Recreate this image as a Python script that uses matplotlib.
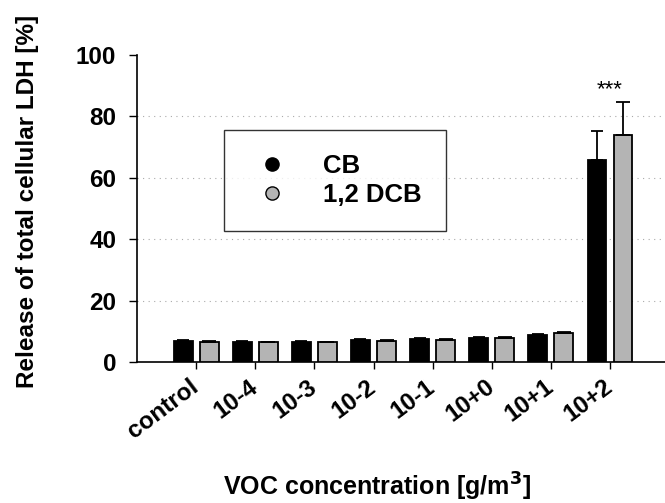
import numpy as np
import matplotlib
matplotlib.use('agg')
import matplotlib.pyplot as plt
from matplotlib.lines import Line2D

plt.rcParams['font.family'] = ['Liberation Sans', 'DejaVu Sans']
plt.rcParams['font.weight'] = 'bold'

categories = ['control', '10-4', '10-3', '10-2', '10-1', '10+0', '10+1', '10+2']
cb_values = [6.8, 6.7, 6.7, 7.2, 7.6, 8.0, 9.0, 65.7]
cb_err = [0.4, 0.2, 0.2, 0.3, 0.3, 0.3, 0.3, 9.6]
dcb_values = [6.4, 6.5, 6.5, 6.9, 7.3, 7.9, 9.6, 73.9]
dcb_err = [0.6, 0.2, 0.2, 0.2, 0.3, 0.2, 0.3, 10.6]
series_names = ['CB', '1,2 DCB']
y_ticks = [0, 20, 40, 60, 80, 100]

gray = '#b4b4b4'
x = np.arange(len(categories))
w = 0.32
off = 0.22

fig = plt.figure(figsize=(6.65, 5.03), dpi=100)
ax = fig.add_axes([0.206, 0.28, 0.794, 0.611])

ax.bar(x - off, cb_values, w, color='black', edgecolor='black', linewidth=1.3, zorder=3,
       yerr=[np.zeros(len(cb_err)), cb_err], error_kw=dict(ecolor='black', elinewidth=1.3, capsize=4, capthick=1.3))
ax.bar(x + off, dcb_values, w, color=gray, edgecolor='black', linewidth=1.3, zorder=3,
       yerr=[np.zeros(len(dcb_err)), dcb_err], error_kw=dict(ecolor='black', elinewidth=1.3, capsize=5, capthick=1.3))

ax.text(x[-1], 88.5, '***', ha='center', va='center', fontsize=16, fontweight='normal')

ax.set_xlim(-1, 7.93)
ax.set_ylim(0, 100)
ax.set_yticks(y_ticks)
ax.set_xticks(x)
ax.set_xticklabels(categories, rotation=37, ha='right', va='center', rotation_mode='anchor', fontsize=17.5)
ax.tick_params(axis='x', length=5, width=1, pad=11)
ax.tick_params(axis='y', length=6, width=1, labelsize=17.5, pad=9)
for t in ax.get_yticklabels():
    t.set_fontweight('bold')
for t in ax.get_xticklabels():
    t.set_fontweight('bold')

for yv in y_ticks[1:-1]:
    ax.axhline(yv, color='#aaaaaa', linestyle=(0, (1, 4)), linewidth=0.8, zorder=1)

ax.spines['top'].set_visible(False)
ax.spines['right'].set_visible(False)
ax.spines['left'].set_linewidth(1.2)
ax.spines['bottom'].set_linewidth(1.2)

fig.text(0.041, 0.60, 'Release of total cellular LDH [%]', rotation=90, ha='center', va='center',
         fontsize=17.5, fontweight='bold')
fig.text(0.567, 0.032, 'VOC concentration [g/m$\\mathbf{^3}$]', ha='center', va='center',
         fontsize=18, fontweight='bold')

handles = [Line2D([], [], marker='o', linestyle='none', markerfacecolor='black', markeredgecolor='black', markersize=9.5),
           Line2D([], [], marker='o', linestyle='none', markerfacecolor=gray, markeredgecolor='black', markersize=9.5)]
leg = ax.legend(handles, series_names, loc='upper left', bbox_to_anchor=(0.165, 0.757), frameon=True, fancybox=False,
                edgecolor='black', prop={'size': 18.5, 'weight': 'bold'}, borderpad=0.95, handletextpad=1.1,
                borderaxespad=0, labelspacing=0.2, handlelength=1.8)
leg.get_frame().set_linewidth(1.0)
leg.set_zorder(5)

fig.savefig('out.png', dpi=100)
